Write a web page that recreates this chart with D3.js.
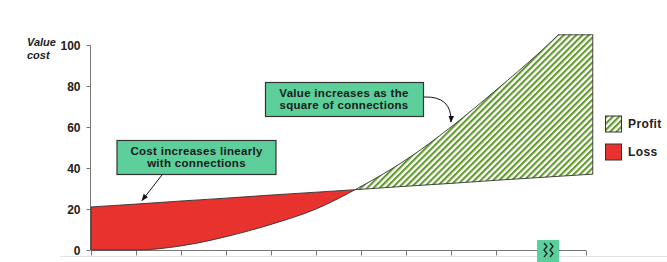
<!DOCTYPE html>
<html><head><meta charset="utf-8">
<script src="https://cdn.jsdelivr.net/npm/d3@7"></script>
<style>
html,body{margin:0;padding:0;background:#fff;}
svg{display:block;font-family:"Liberation Sans",Arial,sans-serif;}
</style></head>
<body>
<svg id="chart" width="667" height="262"></svg>
<script>
// ---- data ----
const connections = [0, 1, 2, 3, 4, 5, 6, 7, 8, 9, 10, 11, 11.15];
const costValues  = [21, 22.4, 23.9, 25.3, 26.8, 28.2, 29.6, 31.1, 32.5, 34, 35.4, 36.8, 37];
const valueValues = [0, 0, 2, 6.5, 12.5, 20, 31, 44, 60, 78, 97, 118, 121];
const yTicks = [0, 20, 40, 60, 80, 100];
const xTicks = [0, 1, 2, 3, 4, 5, 6, 7, 8, 9, 10, 11];
const valueCap = 105;
const legendItems = ["Profit", "Loss"];
const costNote = ["Cost increases linearly", "with connections"];
const valueNote = ["Value increases as the", "square of connections"];

const svg = d3.select("#chart");
const x = d3.scaleLinear().domain([0, 11]).range([91, 586]);
const y = d3.scaleLinear().domain([0, 100]).range([250, 45]);

const data = connections.map((c, i) => ({c, cost: costValues[i], value: valueValues[i]}));

// crossing point and cap point
let cross = 0, capAt = 11;
for (let i = 1; i < data.length; i++) {
  const a = data[i-1], b = data[i];
  const da = a.value - a.cost, db = b.value - b.cost;
  if (da <= 0 && db > 0) { cross = a.c + (b.c - a.c) * (-da) / (db - da); }
  if (a.value < valueCap && b.value >= valueCap) { capAt = a.c + (b.c - a.c) * (valueCap - a.value) / (b.value - a.value); }
}
const lastC = connections[connections.length - 1];

const defs = svg.append("defs");
const pat = defs.append("pattern").attr("id", "stripes").attr("patternUnits", "userSpaceOnUse")
  .attr("width", 4.4).attr("height", 4.4).attr("patternTransform", "rotate(45)");
pat.append("rect").attr("width", 4.4).attr("height", 4.4).attr("fill", "#fff");
pat.append("rect").attr("x", 0).attr("width", 2.1).attr("height", 4.4).attr("fill", "#5f9a2a");

defs.append("clipPath").attr("id", "clipLoss").append("rect")
  .attr("x", 0).attr("y", 0).attr("width", x(cross)).attr("height", 262);
defs.append("clipPath").attr("id", "clipProfit").append("rect")
  .attr("x", x(cross)).attr("y", y(valueCap) - 0.5).attr("width", 667).attr("height", 262);

const area = d3.area().x(d => x(d.c)).y0(d => y(d.cost)).y1(d => y(d.value)).curve(d3.curveMonotoneX);

// faint slide line
svg.append("line").attr("x1", 60).attr("x2", 667).attr("y1", 256.5).attr("y2", 256.5)
  .attr("stroke", "#e2e2e2").attr("stroke-width", 1);

// axes
const yAxis = svg.append("g").attr("transform", `translate(${x(0) - 0.5},0)`)
  .call(d3.axisLeft(y).tickValues(yTicks).tickSize(4).tickPadding(6));
yAxis.select(".domain").attr("stroke", "#777").attr("d", `M-0,${y(100)}V${y(0)}`);
yAxis.selectAll(".tick line").attr("stroke", "#777");
yAxis.selectAll("text").attr("font-size", 12).attr("font-weight", "bold").attr("fill", "#222")
  .attr("font-family", "Liberation Sans, Arial, sans-serif").attr("dy", "0.4em");

const xAxis = svg.append("g").attr("transform", `translate(0,${y(0) + 0.5})`)
  .call(d3.axisBottom(x).tickValues(xTicks).tickSize(5).tickFormat(""));
xAxis.select(".domain").attr("stroke", "#777").attr("d", `M${x(0)},0H${x(11)}`);
xAxis.selectAll(".tick line").attr("stroke", "#777");

// areas
svg.append("path").datum(data).attr("d", area).attr("fill", "#e8322e")
  .attr("stroke", "#333").attr("stroke-width", 0.9).attr("clip-path", "url(#clipLoss)");
const pg = svg.append("g").attr("clip-path", "url(#clipProfit)");
pg.append("path").datum(data).attr("d", area).attr("fill", "url(#stripes)")
  .attr("stroke", "#333").attr("stroke-width", 0.9);
pg.append("line").attr("x1", x(capAt)).attr("x2", x(lastC)).attr("y1", y(valueCap)).attr("y2", y(valueCap))
  .attr("stroke", "#333").attr("stroke-width", 1.2);

// y title
svg.append("text").attr("x", 27).attr("y", 46).text("Value")
  .attr("font-size", 11).attr("font-weight", "bold").attr("font-style", "italic").attr("fill", "#222");
svg.append("text").attr("x", 27).attr("y", 59).text("cost")
  .attr("font-size", 11).attr("font-weight", "bold").attr("font-style", "italic").attr("fill", "#222");

// axis break symbol
const brk = svg.append("g");
brk.append("rect").attr("x", 537).attr("y", 240).attr("width", 22).attr("height", 24).attr("fill", "#5cd09c");
[544, 550].forEach(bx => {
  brk.append("path").attr("d", `M${bx},243 L${bx+3},246.5 L${bx},250 L${bx+3},253.5 L${bx},257`)
    .attr("fill", "none").attr("stroke", "#222").attr("stroke-width", 1.3);
});

// arrow marker
defs.append("marker").attr("id", "arrow").attr("viewBox", "0 0 10 10").attr("refX", 9).attr("refY", 5)
  .attr("markerWidth", 7).attr("markerHeight", 7).attr("orient", "auto-start-reverse")
  .append("path").attr("d", "M0,1 L10,5 L0,9 z").attr("fill", "#111");

// annotation boxes
function note(lines, bx, by, bw, bh, tx, ty0) {
  svg.append("rect").attr("x", bx).attr("y", by).attr("width", bw).attr("height", bh)
    .attr("fill", "#5ccf9b").attr("stroke", "#333").attr("stroke-width", 1.2);
  lines.forEach((t, i) => {
    svg.append("text").attr("x", tx).attr("y", ty0 + i * 12).attr("text-anchor", "middle")
      .attr("font-size", 11.5).attr("font-weight", "bold").attr("fill", "#1a1a1a")
      .attr("letter-spacing", 0.3).text(t);
  });
}
note(costNote, 117, 140.5, 159, 34, 196.5, 155);
note(valueNote, 265.5, 82.5, 158, 34, 344, 96.5);

svg.append("line").attr("x1", 162).attr("y1", 175).attr("x2", 142).attr("y2", 200.5)
  .attr("stroke", "#111").attr("stroke-width", 1).attr("marker-end", "url(#arrow)");
svg.append("path").attr("d", "M424,97 Q452,96 451,122").attr("fill", "none")
  .attr("stroke", "#111").attr("stroke-width", 1).attr("marker-end", "url(#arrow)");

// legend
const leg = svg.append("g");
legendItems.forEach((name, i) => {
  const ly = 116 + i * 28;
  leg.append("rect").attr("x", 605.5).attr("y", ly).attr("width", 16).attr("height", 16)
    .attr("fill", i === 0 ? "url(#stripes)" : "#e8322e").attr("stroke", "#333").attr("stroke-width", 1);
  leg.append("text").attr("x", 628).attr("y", ly + 12).text(name)
    .attr("font-size", 12).attr("font-weight", "bold").attr("fill", "#222").attr("letter-spacing", 0.4);
});
</script>
</body></html>
